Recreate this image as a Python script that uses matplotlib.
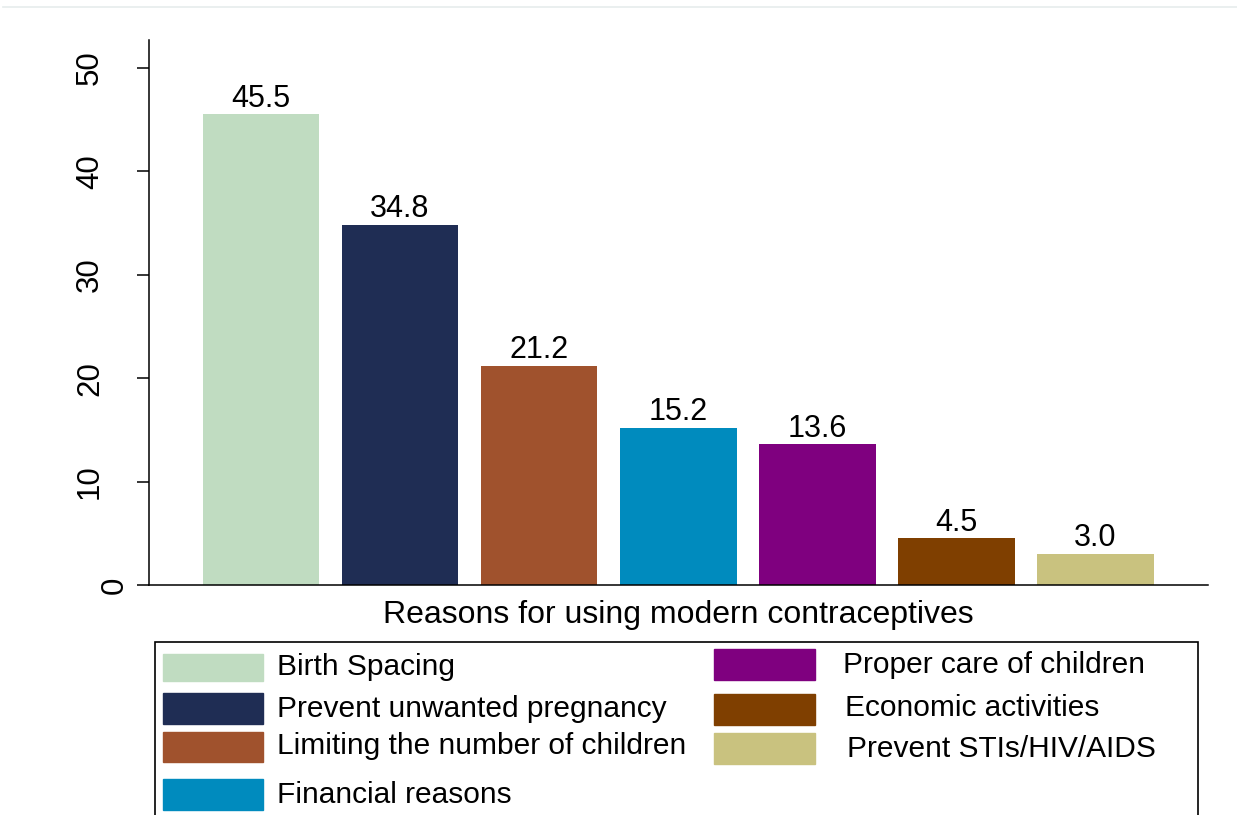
import matplotlib
matplotlib.use('Agg')
import matplotlib.pyplot as plt
import numpy as np
from matplotlib.patches import Rectangle
from matplotlib.lines import Line2D
from matplotlib.transforms import ScaledTranslation

plt.rcParams['font.family'] = ['Liberation Sans', 'DejaVu Sans']

# data
reasons = ['Birth Spacing', 'Prevent unwanted pregnancy', 'Limiting the number of children',
           'Financial reasons', 'Proper care of children', 'Economic activities',
           'Prevent STIs/HIV/AIDS']
shares = [45.5, 34.8, 21.2, 15.2, 13.6, 4.5, 3.0]
colors = ['#c0dcc1', '#1f2d54', '#a0522d', '#008bbe', '#7f007f', '#7f3f00', '#c9c27f']
yticks = [0, 10, 20, 30, 40, 50]

W, H = 1237, 815
fig = plt.figure(figsize=(W / 100, H / 100), dpi=100)

def fx(px):
    return px / W

def fy(py):
    return 1 - py / H

ax = fig.add_axes([fx(149), fy(585), fx(1208) - fx(149), fy(40) - fy(585)])
x = np.arange(len(shares))
bars = ax.bar(x, shares, width=0.84, color=colors, zorder=1)
ax.bar_label(bars, labels=[f'{v:.1f}' for v in shares], padding=0.5, fontsize=22)

ax.set_xlim(-0.805, 6.81)
ax.set_ylim(0, 52.7)
ax.set_yticks(yticks)
ax.set_xticks([])
ax.tick_params(axis='y', length=8.6, width=1.1, labelsize=22.5, labelrotation=90, pad=23)
for lab in ax.get_yticklabels():
    lab.set_va('center')
# the "0" label sits closer to the axis in the original
zero = ax.get_yticklabels()[0]
zero.set_transform(zero.get_transform() + ScaledTranslation(25 / 100, 0, fig.dpi_scale_trans))

for side in ['top', 'right']:
    ax.spines[side].set_visible(False)
for side in ['left', 'bottom']:
    ax.spines[side].set_linewidth(1.1)
    ax.spines[side].set_zorder(3)

ax.set_xlabel('Reasons for using modern contraceptives', fontsize=23, labelpad=11)

# thin grey line along the top of the picture
fig.add_artist(Line2D([fx(3), 1], [fy(7), fy(7)], transform=fig.transFigure,
                      color='#e6ecec', lw=1.2))

# legend box (runs off the bottom edge)
fig.patches.append(Rectangle((fx(155), fy(840)), fx(1198) - fx(155), fy(642) - fy(840),
                             transform=fig.transFigure, fill=False, ec='black', lw=1.2))

# legend entries: patch left/right, patch top/bottom, text x, text y (pixels)
patch_x = [(163, 263)] * 4 + [(714, 815)] * 3
patch_y = [(654, 681), (693, 724), (732, 762), (779, 810), (649, 680), (694, 725), (733, 764)]
text_x = [277, 277, 277, 277, 843, 845, 847]
text_y = [667, 709, 746, 795, 665, 708, 749]

for i, name in enumerate(reasons):
    x0, x1 = patch_x[i]
    y0, y1 = patch_y[i]
    fig.patches.append(Rectangle((fx(x0), fy(y1)), fx(x1) - fx(x0), fy(y0) - fy(y1),
                                 transform=fig.transFigure, color=colors[i]))
    fig.text(fx(text_x[i]), fy(text_y[i]), name, fontsize=21.5, ha='left', va='center')

fig.savefig('out.png', dpi=100)
